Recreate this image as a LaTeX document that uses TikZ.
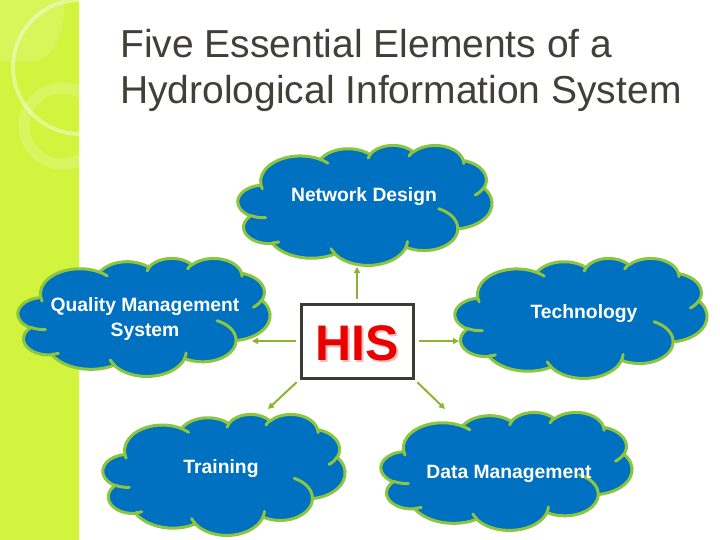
\documentclass[tikz,border=0pt]{standalone}
\usepackage{fontspec}
\setmainfont{Liberation Sans}
\usetikzlibrary{arrows.meta}
\definecolor{strip}{RGB}{210,244,62}
\definecolor{cloudblue}{RGB}{0,112,192}
\definecolor{cloudgreen}{RGB}{140,198,63}
\definecolor{arrowgreen}{RGB}{140,180,50}
\definecolor{titlegray}{RGB}{64,64,56}
\definecolor{hisred}{RGB}{235,0,0}
\definecolor{hisshadow}{RGB}{238,190,190}
\definecolor{boxgray}{RGB}{60,60,55}
% convert OOXML visual angles to parametric angles
\newcommand\cldconv[5]{%
  \pgfmathsetmacro\cldtA{atan2((#2)*sin(#4),(#3)*cos(#4))}%
  \pgfmathsetmacro\cldtB{atan2((#2)*sin((#4)+(#5)),(#3)*cos((#4)+(#5)))}%
  \pgfmathsetmacro\cldtD{\cldtB-\cldtA}%
  \pgfmathsetmacro\cldtD{\cldtD-360*floor(\cldtD/360)}%
  \expandafter\xdef\csname cldS#1\endcsname{\cldtA}%
  \expandafter\xdef\csname cldD#1\endcsname{\cldtD}%
}
\cldconv{A}{67.53}{91.90}{-190.4875}{123.7805}
\cldconv{B}{53.33}{72.67}{-144.1024}{89.9452}
\cldconv{C}{43.65}{59.45}{-145.8079}{99.7230}
\cldconv{D}{48.57}{65.95}{-130.9861}{117.2417}
\cldconv{E}{53.33}{72.73}{-78.7089}{109.0269}
\cldconv{F}{67.75}{92.20}{-46.2673}{130.2690}
\cldconv{G}{57.85}{78.67}{0.6250}{114.0333}
\cldconv{H}{67.52}{92.15}{22.4516}{115.1726}
\cldconv{I}{77.20}{105.43}{66.2426}{75.7110}
\cldconv{J}{43.60}{59.18}{-274.9421}{146.7356}
\cldconv{K}{43.45}{59.45}{-246.8285}{152.5189}
\cldconv{a}{43.45}{59.45}{86.7420}{26.4295}
\cldconv{b}{43.60}{59.18}{73.6105}{11.4475}
\cldconv{c}{67.52}{92.15}{137.6242}{14.0811}
\cldconv{d}{67.52}{92.15}{6.4533}{15.9984}
\cldconv{e}{57.85}{78.67}{-70.2924}{70.9174}
\cldconv{f}{53.33}{72.73}{30.3180}{27.7515}
\cldconv{g}{48.57}{65.95}{-13.7443}{14.8589}
\cldconv{h}{48.57}{65.95}{-149.1815}{18.1954}
\cldconv{i}{43.65}{59.45}{-163.4943}{17.6864}
\cldconv{j}{67.53}{91.90}{-66.7070}{12.3194}
\cldconv{k}{67.53}{91.90}{157.6544}{11.8582}
\newcommand\hiscloud[4]{%
  \pgfmathsetmacro\cldsx{#3/432}\pgfmathsetmacro\cldsy{#4/432}%
  \begin{scope}[shift={(#1,#2)},x=\cldsx pt,y=-\cldsy pt]
    \draw[cloudbody] (39.00,143.70)
      arc[x radius=67.53,y radius=91.90,start angle=\cldSA,delta angle=\cldDA]
      arc[x radius=53.33,y radius=72.67,start angle=\cldSB,delta angle=\cldDB]
      arc[x radius=43.65,y radius=59.45,start angle=\cldSC,delta angle=\cldDC]
      arc[x radius=48.57,y radius=65.95,start angle=\cldSD,delta angle=\cldDD]
      arc[x radius=53.33,y radius=72.73,start angle=\cldSE,delta angle=\cldDE]
      arc[x radius=67.75,y radius=92.20,start angle=\cldSF,delta angle=\cldDF]
      arc[x radius=57.85,y radius=78.67,start angle=\cldSG,delta angle=\cldDG]
      arc[x radius=67.52,y radius=92.15,start angle=\cldSH,delta angle=\cldDH]
      arc[x radius=77.20,y radius=105.43,start angle=\cldSI,delta angle=\cldDI]
      arc[x radius=43.60,y radius=59.18,start angle=\cldSJ,delta angle=\cldDJ]
      arc[x radius=43.45,y radius=59.45,start angle=\cldSK,delta angle=\cldDK]
      -- cycle;
    \draw[cloudinner]
      (46.93,261.77) arc[x radius=43.45,y radius=59.45,start angle=\cldSa,delta angle=\cldDa]
      (69.28,348.99) arc[x radius=43.60,y radius=59.18,start angle=\cldSb,delta angle=\cldDb]
      (164.78,390.90) arc[x radius=67.52,y radius=92.15,start angle=\cldSc,delta angle=\cldDc]
      (288.27,347.51) arc[x radius=67.52,y radius=92.15,start angle=\cldSd,delta angle=\cldDd]
      (341.29,229.54) arc[x radius=57.85,y radius=78.67,start angle=\cldSe,delta angle=\cldDe]
      (417.98,153.54) arc[x radius=53.33,y radius=72.73,start angle=\cldSf,delta angle=\cldDf]
      (383.24,54.26) arc[x radius=48.57,y radius=65.95,start angle=\cldSg,delta angle=\cldDg]
      (290.78,39.52) arc[x radius=48.57,y radius=65.95,start angle=\cldSh,delta angle=\cldDh]
      (221.41,47.20) arc[x radius=43.65,y radius=59.45,start angle=\cldSi,delta angle=\cldDi]
      (140.00,51.92) arc[x radius=67.53,y radius=91.90,start angle=\cldSj,delta angle=\cldDj]
      (41.27,157.89) arc[x radius=67.53,y radius=91.90,start angle=\cldSk,delta angle=\cldDk];
  \end{scope}}
\tikzset{
  cloudbody/.style={fill=cloudblue,draw=cloudgreen,line width=3pt,line join=round},
  cloudinner/.style={draw=cloudgreen,line width=3pt,line cap=round},
  cloudtext/.style={text=white,font=\fontsize{19.3}{24.5}\selectfont\bfseries,inner sep=0pt,anchor=base,align=center},
  titletext/.style={text=titlegray,font=\fontsize{39}{46}\selectfont,inner sep=0pt,anchor=base west},
  hisbox/.style={draw=boxgray,line width=3pt,fill=white,minimum width=112pt,minimum height=74pt,inner sep=0pt},
  histext/.style={font=\fontsize{50}{60}\selectfont\bfseries,inner sep=0pt,anchor=base},
  arr/.style={draw=arrowgreen,line width=2pt,-{Triangle[length=6pt,width=6pt]},shorten <=4pt}
}
\begin{document}
\begin{tikzpicture}[x=1pt,y=-1pt]
\useasboundingbox (0,0) rectangle (720,540);
\fill[white] (0,0) rectangle (720,540);
% left strip
\begin{scope}
  \clip (0,0) rectangle (79,540);
  \fill[strip] (0,0) rectangle (79,540);
  \fill[white,opacity=0.15] (0,0) -- (64,0) .. controls (66,30) and (56,55) .. (36,62) -- (0,62) -- cycle;
  \draw[white,opacity=0.4,line width=4pt] (80,67) circle[radius=67];
  \draw[white,opacity=0.18,line width=11pt] (62,126) circle[radius=38];
\end{scope}
\draw[white!85!yellow,line width=1pt] (79.5,0) -- (79.5,540);
% title
\node[titletext] (t1) at (120,58) {Five Essential Elements of a};
\node[titletext] (t2) at (120,104) {Hydrological Information System};
% clouds
\hiscloud{238}{145}{254}{120}
\hiscloud{18}{258}{252}{118}
\hiscloud{455}{258}{252}{120}
\hiscloud{103}{414}{242}{121}
\hiscloud{381}{412}{251}{118}
\node[cloudtext] (nd) at (364,202) {Network Design};
\node[cloudtext] (qms) at (145,336) {Quality Management\\System};
\node[cloudtext] (tech) at (584,318) {Technology};
\node[cloudtext] (tr) at (221,473) {Training};
\node[cloudtext] (dm) at (509,478) {Data Management};
% HIS box
\node[hisbox] (his) at (357,341) {};
\node[histext,text=hisshadow] (hisS) at (359,362) {HIS};
\node[histext,text=hisred] (hisT) at (357,360) {HIS};
% arrows
\coordinate (ndTip) at (357,267);
\coordinate (qmsTip) at (252,341);
\coordinate (techTip) at (459,341);
\coordinate (trTip) at (268,409);
\coordinate (dmTip) at (445,409);
\draw[arr] (his.north) -- (ndTip);
\draw[arr] (his.west) -- (qmsTip);
\draw[arr] (his.east) -- (techTip);
\draw[arr] (his.south west) -- (trTip);
\draw[arr] (his.south east) -- (dmTip);
\end{tikzpicture}
\end{document}
